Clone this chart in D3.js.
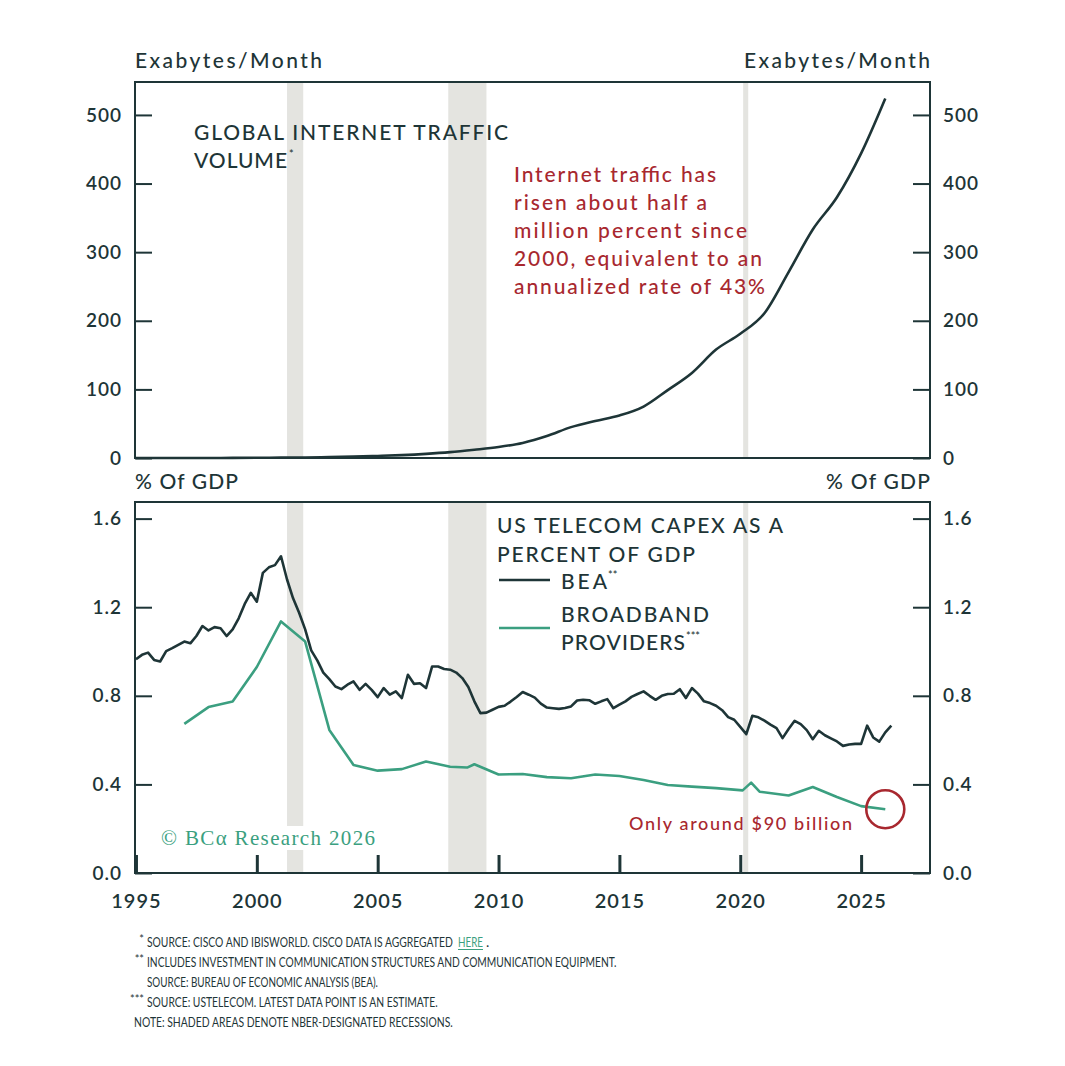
<!DOCTYPE html>
<html>
<head>
<meta charset="utf-8">
<script src="https://cdn.jsdelivr.net/npm/d3@7"></script>
<style>
  body { margin: 0; background: #fff; }
  text { font-family: Lato, "Open Sans", sans-serif; }
</style>
</head>
<body>
<script>
// ---- data ----
var trafficYears = d3.range(1995, 2027);
var trafficValues = [0.01, 0.02, 0.04, 0.08, 0.15, 0.3, 0.5, 0.8, 1.3, 2.0, 3.0, 4.2,
  6.0, 8.5, 12, 16, 22, 32, 45, 54, 62, 75, 99, 124, 158, 181, 211, 271, 333, 380, 444, 524];

// BEA, quarterly from 1995Q1
var beaStart = 1995;
var beaValues = [
  0.965, 0.985, 0.995, 0.962,
  0.955, 1.002, 1.015, 1.030,
  1.045, 1.037, 1.070, 1.115,
  1.095, 1.110, 1.105, 1.070,
  1.100, 1.150, 1.215, 1.265,
  1.225, 1.355, 1.380, 1.390,
  1.430, 1.325, 1.240, 1.175,
  1.100, 1.005, 0.960, 0.905,
  0.875, 0.842, 0.830, 0.850,
  0.865, 0.827, 0.854, 0.827,
  0.794, 0.835, 0.805, 0.820,
  0.790, 0.895, 0.854, 0.857,
  0.835, 0.932, 0.932, 0.921,
  0.918, 0.905, 0.880, 0.840,
  0.775, 0.722, 0.724, 0.737,
  0.750, 0.755, 0.774, 0.795,
  0.817, 0.805, 0.792, 0.765,
  0.747, 0.744, 0.741, 0.745,
  0.752, 0.779, 0.782, 0.780,
  0.764, 0.775, 0.785, 0.744,
  0.760, 0.775, 0.795, 0.808,
  0.820, 0.800, 0.782, 0.800,
  0.808, 0.809, 0.830, 0.790,
  0.835, 0.810, 0.775, 0.767,
  0.755, 0.735, 0.704, 0.692,
  0.660, 0.627, 0.710, 0.703,
  0.688, 0.670, 0.654, 0.609,
  0.650, 0.687, 0.672, 0.645,
  0.604, 0.642, 0.622, 0.608,
  0.594, 0.574, 0.580, 0.583,
  0.583, 0.665, 0.612, 0.593,
  0.635, 0.665
];

// broadband providers (USTelecom)
var bbYears = [1997, 1998, 1999, 2000, 2001, 2002, 2003, 2004, 2005, 2006, 2007, 2008, 2008.7, 2009,
  2010, 2011, 2012, 2013, 2014, 2015, 2016, 2017, 2018, 2019, 2020.1, 2020.45, 2020.8, 2022, 2023, 2024, 2025, 2026];
var bbValues = [0.673, 0.749, 0.774, 0.930, 1.136, 1.045, 0.646, 0.488, 0.462, 0.469, 0.503, 0.480, 0.476, 0.491,
  0.445, 0.447, 0.433, 0.428, 0.445, 0.438, 0.420, 0.397, 0.390, 0.383, 0.373, 0.408, 0.367, 0.350, 0.388, 0.343, 0.302, 0.288];

// NBER recessions
var recessions = [[2001.25, 2001.92], [2007.92, 2009.5], [2020.12, 2020.33]];

var xTicks = [1995, 2000, 2005, 2010, 2015, 2020, 2025];
var topTicks = [0, 100, 200, 300, 400, 500];
var botTicks = [0, 0.4, 0.8, 1.2, 1.6];

// marker, text, width in px
var footnotes = [
  ["*", "SOURCE: CISCO AND IBISWORLD. CISCO DATA IS AGGREGATED", 306],
  ["**", "INCLUDES INVESTMENT IN COMMUNICATION STRUCTURES AND COMMUNICATION EQUIPMENT.", 470],
  ["", "SOURCE: BUREAU OF ECONOMIC ANALYSIS (BEA).", 231],
  ["***", "SOURCE: USTELECOM. LATEST DATA POINT IS AN ESTIMATE.", 291],
  ["", "NOTE: SHADED AREAS DENOTE NBER-DESIGNATED RECESSIONS.", 319]
];

// ---- layout ----
var W = 1065, H = 1066;
var L = 135, R = 930;
var top1 = 82, bot1 = 458, top2 = 502, bot2 = 873;
var ink = "#1e3537", green = "#3b9f80", red = "#a8282f", shade = "#e4e4e0";

var svg = d3.select("body").append("svg").attr("width", W).attr("height", H);
svg.append("rect").attr("width", W).attr("height", H).attr("fill", "#fff");

var x = d3.scaleLinear().domain([1994.96, 2027.85]).range([L, R]);
var y1 = d3.scaleLinear().domain([0, 548]).range([bot1, top1]);
var y2 = d3.scaleLinear().domain([0, 1.675]).range([bot2, top2]);

function txt(g, s, px, py, size, color, width, opts) {
  opts = opts || {};
  var t = g.append("text").attr("x", px).attr("y", py)
    .attr("font-size", size).attr("fill", color)
    .attr("font-weight", opts.weight || 500)
    .attr("text-anchor", opts.anchor || "start")
    .text(s);
  if (opts.family) t.style("font-family", opts.family);
  if (width) t.attr("textLength", width).attr("lengthAdjust", opts.adjust || "spacing");
  return t;
}
function sup(g, s, px, py) {
  return g.append("text").attr("x", px).attr("y", py).attr("font-size", 11)
    .attr("fill", ink).attr("font-weight", 500).text(s);
}
// squeeze a text horizontally to a given width
function squeeze(t, px, target) {
  var w = t.node().getComputedTextLength();
  t.attr("x", 0).attr("transform", "translate(" + px + ",0) scale(" + (target / w) + ",1)");
}

// recession bands
[[top1, bot1], [top2, bot2]].forEach(function (p) {
  svg.append("g").selectAll("rect").data(recessions).join("rect")
    .attr("x", d => x(d[0])).attr("width", d => x(d[1]) - x(d[0]))
    .attr("y", p[0]).attr("height", p[1] - p[0])
    .attr("fill", shade);
});

// logo (white box breaks the shading)
svg.append("rect").attr("x", 155).attr("y", 826).attr("width", 226).attr("height", 24).attr("fill", "#fff");
txt(svg, "\u00a9 BC\u03b1 Research 2026", 161, 845, 21, green, 214,
  {weight: 400, family: "'Liberation Serif', 'DejaVu Serif', serif"});

// lines
var trafficLine = d3.line().x((d, i) => x(trafficYears[i])).y(d => y1(d)).curve(d3.curveMonotoneX);
svg.append("path").datum(trafficValues).attr("d", trafficLine)
  .attr("fill", "none").attr("stroke", ink).attr("stroke-width", 2.6);

var beaLine = d3.line().x((d, i) => x(beaStart + i / 4)).y(d => y2(d));
svg.append("path").datum(beaValues).attr("d", beaLine)
  .attr("fill", "none").attr("stroke", ink).attr("stroke-width", 2.6).attr("stroke-linejoin", "round");

var bbLine = d3.line().x((d, i) => x(bbYears[i])).y(d => y2(d));
svg.append("path").datum(bbValues).attr("d", bbLine)
  .attr("fill", "none").attr("stroke", green).attr("stroke-width", 2.6).attr("stroke-linejoin", "round");

// frames
[[top1, bot1], [top2, bot2]].forEach(function (p) {
  svg.append("rect").attr("x", L).attr("y", p[0]).attr("width", R - L).attr("height", p[1] - p[0])
    .attr("fill", "none").attr("stroke", ink).attr("stroke-width", 2);
});

// axes
function styleAxis(g, sw) {
  g.select(".domain").remove();
  g.selectAll(".tick line").attr("stroke", ink).attr("stroke-width", sw);
  g.selectAll(".tick text").attr("fill", ink).attr("font-size", 19).attr("font-weight", 600)
    .attr("letter-spacing", 1).style("font-family", "Lato, sans-serif");
}
function yAxes(scale, ticks, fmt) {
  svg.append("g").attr("transform", "translate(" + L + ",0)")
    .call(d3.axisLeft(scale).tickValues(ticks).tickFormat(fmt).tickSize(-17).tickPadding(13))
    .call(g => styleAxis(g, 2));
  svg.append("g").attr("transform", "translate(" + R + ",0)")
    .call(d3.axisRight(scale).tickValues(ticks).tickFormat(fmt).tickSize(-17).tickPadding(13))
    .call(g => styleAxis(g, 2));
}
yAxes(y1, topTicks, d3.format("d"));
yAxes(y2, botTicks, d3.format(".1f"));

svg.append("g").attr("transform", "translate(0," + bot2 + ")")
  .call(d3.axisBottom(x).tickValues(xTicks).tickFormat(d3.format("d")).tickSize(-18).tickPadding(21))
  .call(g => styleAxis(g, 3))
  .call(g => g.selectAll(".tick text").attr("font-size", 20));

// unit labels
txt(svg, "Exabytes/Month", L, 68, 21, ink, 187);
txt(svg, "Exabytes/Month", R, 68, 21, ink, 186, {anchor: "end"});
txt(svg, "% Of GDP", L, 489, 21, ink, 103);
txt(svg, "% Of GDP", R, 489, 21, ink, 104, {anchor: "end"});

// top panel title + note
txt(svg, "GLOBAL INTERNET TRAFFIC", 194, 140, 21, ink, 314);
txt(svg, "VOLUME", 194, 168, 21, ink, 93);
sup(svg, "*", 289, 158);

var note = ["Internet traffic has", "risen about half a", "million percent since",
  "2000, equivalent to an", "annualized rate of 43%"];
var noteW = [202, 193, 233, 248, 251];
note.forEach(function (s, i) {
  txt(svg, s, 514, 182 + i * 28, 21, red, noteW[i]);
});

// bottom panel legend
txt(svg, "US TELECOM CAPEX AS A", 497, 533, 21, ink, 286);
txt(svg, "PERCENT OF GDP", 497, 562, 21, ink, 198);
svg.append("line").attr("x1", 499).attr("x2", 550).attr("y1", 580).attr("y2", 580)
  .attr("stroke", ink).attr("stroke-width", 2.6);
txt(svg, "BEA", 561, 589, 21, ink, 46);
sup(svg, "**", 608, 579);
svg.append("line").attr("x1", 499).attr("x2", 550).attr("y1", 628).attr("y2", 628)
  .attr("stroke", green).attr("stroke-width", 2.6);
txt(svg, "BROADBAND", 561, 622, 21, ink, 148);
txt(svg, "PROVIDERS", 561, 650, 21, ink, 124);
sup(svg, "***", 686, 640);

// last-point callout
var last = bbValues.length - 1;
svg.append("circle").attr("cx", x(bbYears[last])).attr("cy", y2(bbValues[last])).attr("r", 19)
  .attr("fill", "none").attr("stroke", red).attr("stroke-width", 2.6);
txt(svg, "Only around $90 billion", 629, 830, 18, red, 223);

// footnotes
var fg = svg.append("g").style("font-family", "'Liberation Sans Narrow', 'Roboto', sans-serif");
footnotes.forEach(function (f, i) {
  var yy = 947 + i * 20;
  var xx = i === 4 ? 134 : 147;
  if (f[0]) fg.append("text").attr("x", 144).attr("y", yy - 4).attr("font-size", 11)
    .attr("text-anchor", "end").attr("fill", ink).text(f[0]);
  var t = fg.append("text").attr("y", yy).attr("font-size", 14).attr("fill", ink).text(f[1]);
  squeeze(t, xx, f[2]);
});
// link word, underlined by hand
var here = fg.append("text").attr("y", 947).attr("font-size", 14).attr("fill", green).text("HERE");
squeeze(here, 458, 25);
fg.append("line").attr("x1", 458).attr("x2", 483).attr("y1", 949.5).attr("y2", 949.5)
  .attr("stroke", green).attr("stroke-width", 1);
fg.append("text").attr("x", 486).attr("y", 947).attr("font-size", 14).attr("fill", ink).text(".");
</script>
</body>
</html>
